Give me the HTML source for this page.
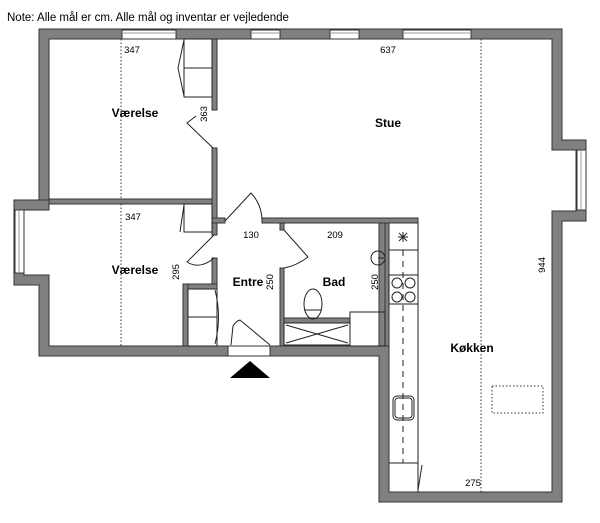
<!DOCTYPE html>
<html><head><style>html,body{margin:0;padding:0;background:#fff;}svg{display:block;}text{font-family:"Liberation Sans",sans-serif;fill:#000;}</style></head>
<body>
<svg width="600" height="523" viewBox="0 0 600 523" xmlns="http://www.w3.org/2000/svg">
<text x="7" y="21" font-size="11.5">Note: Alle mål er cm. Alle mål og inventar er vejledende</text>
<g fill="#808080" stroke="#333" stroke-width="1">
<path d="M39 29 H562 V140 H586 V221 H562 V502 H379 V356 H270 V346 H379 V223 H389 V346 H389 V492 H552 V211 H576 V150 H552 V39 H49 V200 H39 Z" />
<path d="M39 200 H14 V285 H39 V356 H228 V346 H49 V275 H24 V210 H49 V200 Z"/>
<rect x="49" y="199" width="163" height="5"/>
<rect x="212" y="39" width="5" height="71"/>
<rect x="212" y="148" width="5" height="70"/>
<rect x="212" y="218" width="13" height="5"/>
<rect x="212" y="223" width="5" height="12"/>
<rect x="212" y="258" width="5" height="30"/>
<rect x="183" y="284" width="34" height="5"/>
<rect x="183" y="284" width="5" height="62"/>
<rect x="262" y="218" width="156" height="5"/>
<rect x="280" y="223" width="4" height="7"/>
<rect x="280" y="268" width="4" height="78"/>
<rect x="385" y="223" width="4" height="123"/>
<rect x="284" y="318" width="66" height="5"/>
</g>
<g fill="#fff" stroke="#333" stroke-width="1">
<rect x="122" y="30" width="54" height="9"/><rect x="251" y="30" width="29" height="9"/>
<rect x="330" y="30" width="29" height="9"/><rect x="403" y="30" width="68" height="9"/>
<rect x="15" y="210" width="9" height="63"/><rect x="577" y="150" width="9" height="60"/>
<rect x="228" y="346" width="42" height="10"/>
</g>
<g stroke="#999" fill="none" stroke-width="1">
<line x1="123" y1="33" x2="175" y2="33"/><line x1="252" y1="33" x2="279" y2="33"/>
<line x1="331" y1="33" x2="358" y2="33"/><line x1="404" y1="33" x2="470" y2="33"/>
<line x1="19" y1="211" x2="19" y2="272"/><line x1="581" y1="151" x2="581" y2="209"/>
</g>
<g fill="none" stroke="#222" stroke-width="1">
<rect x="184" y="39" width="28" height="58"/><line x1="184" y1="68" x2="212" y2="68"/>
<polyline points="184,40 178,68 184,96"/>
<rect x="184" y="204" width="28" height="28"/><polyline points="184,205 180,232"/>
<rect x="188" y="289" width="29" height="57"/><line x1="188" y1="317" x2="217" y2="317"/>
<path d="M215 290 Q222 317 215 344"/>
<polyline points="213,148 187,123 196,116"/>
<path d="M225 221 L251 193 Q262 205 262 221"/>
<path d="M214 235 L187 262 Q200 270 214 258"/>
<path d="M284 230 L308 257 Q296 266 284 268"/>
<path d="M231 345 L233 326 Q236 321 240 320 L270 345"/>
<rect x="284" y="323" width="66" height="22"/><line x1="286" y1="325" x2="348" y2="343"/><line x1="348" y1="325" x2="286" y2="343"/>
<rect x="350" y="312" width="35" height="34"/>
<ellipse cx="313" cy="304" rx="9" ry="15"/><line x1="304" y1="310" x2="322" y2="310"/>
<circle cx="378" cy="258" r="7"/><line x1="378" y1="258" x2="384" y2="258"/>
<line x1="418" y1="223" x2="418" y2="463"/>
<line x1="389" y1="250" x2="418" y2="250"/>
<rect x="389" y="275" width="29" height="29"/>
<circle cx="397" cy="283" r="5"/><circle cx="410" cy="283" r="5"/><circle cx="397" cy="297" r="5"/><circle cx="410" cy="297" r="5"/>
<line x1="398" y1="237" x2="408" y2="237"/><line x1="403" y1="232" x2="403" y2="242"/><line x1="399" y1="233" x2="407" y2="241"/><line x1="407" y1="233" x2="399" y2="241"/>
<line x1="403" y1="250" x2="403" y2="463" stroke-dasharray="6,5"/>
<rect x="393" y="396" width="21" height="24" rx="4"/><rect x="395" y="398" width="17" height="20" rx="3"/>
<line x1="389" y1="463" x2="418" y2="463"/><line x1="418" y1="463" x2="418" y2="492"/><line x1="422" y1="465" x2="418" y2="490"/>
</g>
<g fill="none" stroke="#333" stroke-width="1" stroke-dasharray="1.5,2">
<line x1="121" y1="39" x2="121" y2="199"/><line x1="121" y1="204" x2="121" y2="346"/>
<line x1="481" y1="39" x2="481" y2="492"/>
<rect x="492" y="386" width="51" height="27"/>
</g>
<polygon points="230,378 270,378 250,361" fill="#000"/>
<g font-size="9.5" text-anchor="middle">
<text x="132" y="53">347</text><text x="388" y="53">637</text><text x="133" y="220">347</text>
<text x="251" y="238">130</text><text x="335" y="238">209</text><text x="473" y="486">275</text>
<text transform="translate(207,114) rotate(-90)">363</text>
<text transform="translate(179,272) rotate(-90)">295</text>
<text transform="translate(273,282) rotate(-90)">250</text>
<text transform="translate(378,282) rotate(-90)">250</text>
<text transform="translate(545,265) rotate(-90)">944</text>
</g>
<g font-size="12" font-weight="bold" text-anchor="middle">
<text x="135" y="117">Værelse</text><text x="388" y="127">Stue</text><text x="135" y="274">Værelse</text>
<text x="248" y="286">Entre</text><text x="334" y="286">Bad</text><text x="472" y="352">Køkken</text>
</g>
</svg>
</body></html>
